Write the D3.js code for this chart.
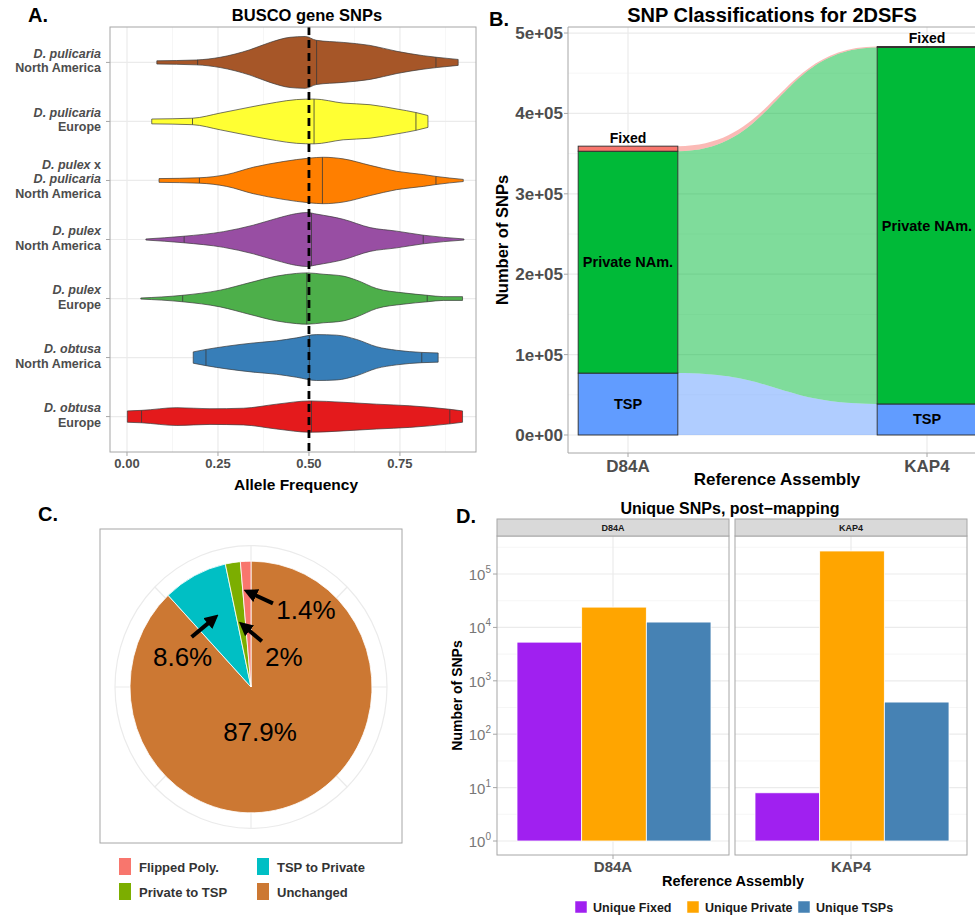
<!DOCTYPE html>
<html>
<head>
<meta charset="utf-8">
<script src="https://cdn.jsdelivr.net/npm/d3@7"></script>
<style>
  body { margin: 0; background: #fff; }
  svg { display: block; }
  text { font-family: "Liberation Sans", Arial, Helvetica, sans-serif; }
</style>
</head>
<body>
<svg id="fig" width="975" height="917"></svg>
<script>
// ---------------- Panel A: BUSCO gene SNP allele frequencies ----------------
const violinSpecies = ["D. pulicaria", "D. pulicaria", "D. pulex x D. pulicaria", "D. pulex", "D. pulex", "D. obtusa", "D. obtusa"];
const violinRegion  = ["North America", "Europe", "North America", "North America", "Europe", "North America", "Europe"];
const violinColors  = ["#A65628", "#FFFF33", "#FF7F00", "#984EA3", "#4DAF4A", "#377EB8", "#E41A1C"];
// allele-frequency grid of each violin and its relative density (half width)
const violinAF = [
  [0.082, 0.19, 0.256, 0.338, 0.393, 0.448, 0.49, 0.52, 0.594, 0.668, 0.742, 0.814, 0.851, 0.91],
  [0.068, 0.18, 0.256, 0.338, 0.411, 0.466, 0.514, 0.594, 0.668, 0.742, 0.794, 0.827],
  [0.088, 0.199, 0.274, 0.347, 0.429, 0.503, 0.539, 0.594, 0.668, 0.741, 0.814, 0.849, 0.924],
  [0.052, 0.155, 0.265, 0.347, 0.411, 0.466, 0.494, 0.521, 0.594, 0.668, 0.741, 0.814, 0.926],
  [0.038, 0.153, 0.256, 0.338, 0.411, 0.466, 0.495, 0.539, 0.594, 0.631, 0.686, 0.759, 0.825, 0.869, 0.922],
  [0.182, 0.217, 0.274, 0.347, 0.411, 0.466, 0.521, 0.576, 0.631, 0.686, 0.741, 0.81, 0.855],
  [0.001, 0.04, 0.137, 0.228, 0.32, 0.411, 0.503, 0.594, 0.686, 0.777, 0.887, 0.922]
];
const violinDensity = [
  [0.06, 0.09, 0.19, 0.47, 0.74, 0.93, 0.96, 0.82, 0.74, 0.63, 0.41, 0.25, 0.19, 0.11],
  [0.09, 0.12, 0.31, 0.53, 0.71, 0.81, 0.83, 0.68, 0.62, 0.46, 0.33, 0.22],
  [0.07, 0.10, 0.22, 0.49, 0.70, 0.83, 0.86, 0.80, 0.56, 0.34, 0.22, 0.15, 0.04],
  [0.02, 0.12, 0.29, 0.53, 0.78, 0.96, 1.00, 0.94, 0.75, 0.44, 0.31, 0.16, 0.02],
  [0.02, 0.12, 0.31, 0.59, 0.83, 0.93, 0.95, 0.90, 0.83, 0.68, 0.37, 0.21, 0.12, 0.07, 0.07],
  [0.21, 0.30, 0.42, 0.54, 0.62, 0.73, 0.85, 0.83, 0.67, 0.40, 0.27, 0.19, 0.17],
  [0.21, 0.23, 0.33, 0.29, 0.31, 0.46, 0.58, 0.53, 0.46, 0.40, 0.27, 0.21]
];
const violinQuantiles = [
  [0.194, 0.521, 0.849],
  [0.18, 0.514, 0.794],
  [0.199, 0.537, 0.849],
  [0.157, 0.507, 0.814],
  [0.153, 0.494, 0.825],
  [0.217, 0.501, 0.81],
  [0.04, 0.507, 0.887]
];
const afTicks = [0, 0.25, 0.5, 0.75];
const afMinor = [0.125, 0.375, 0.625, 0.875];
const afReference = 0.5;

// ---------------- Panel B: SNP classifications for 2DSFS ----------------
const assemblies = ["D84A", "KAP4"];
const snpClasses = ["TSP", "Private NAm.", "Fixed"];
const tspCounts = [77000, 38600];
const privateCounts = [276000, 443500];
const fixedCounts = [6300, 1200];
const classColors = ["#619CFF", "#00BA38", "#F8766D"];
const countTicks = [0, 100000, 200000, 300000, 400000, 500000];

// ---------------- Panel C: change of classification ----------------
const pieCategories = ["Unchanged", "TSP to Private", "Private to TSP", "Flipped Poly."];
const piePercent = [87.9, 8.6, 2, 1.4];
const pieColors = ["#CC7833", "#00BFC4", "#7CAE00", "#F8766D"];
const legendOrderC = ["Flipped Poly.", "Private to TSP", "TSP to Private", "Unchanged"];

// ---------------- Panel D: unique SNPs post-mapping ----------------
const facets = ["D84A", "KAP4"];
const uniqueTypes = ["Unique Fixed", "Unique Private", "Unique TSPs"];
const uniqueFixed = [5300, 8];
const uniquePrivate = [24000, 270000];
const uniqueTSPs = [12600, 400];
const uniqueColors = ["#A020F0", "#FFA500", "#4682B4"];
const logTicks = [1, 10, 100, 1000, 10000, 100000];

// ======================================================================
const svg = d3.select("#fig");
svg.append("rect").attr("width", 975).attr("height", 917).attr("fill", "#fff");

const GRID = "#ebebeb", GRID_MINOR = "#f4f4f4", BORDER = "#a6a6a6", AXIS_TXT = "#4d4d4d";

function panelLetter(x, y, t) {
  svg.append("text").attr("x", x).attr("y", y).attr("font-size", 20)
    .attr("font-weight", "bold").attr("fill", "#000").text(t);
}

// ---------------- Panel A ----------------
{
  const L = 110, R = 476, T = 27, B = 452;
  const g = svg.append("g");
  const x = d3.scaleLinear().domain([-0.0467, 0.959]).range([L, R]);
  const y = d3.scalePoint().domain(d3.range(violinSpecies.length)).range([T, B]).padding(0.6);
  const w = d3.scaleLinear().domain([0, 1]).range([0, 27]);

  afMinor.forEach(v => g.append("line").attr("x1", x(v)).attr("x2", x(v)).attr("y1", T).attr("y2", B)
    .attr("stroke", GRID_MINOR).attr("stroke-width", 0.8));
  afTicks.forEach(v => g.append("line").attr("x1", x(v)).attr("x2", x(v)).attr("y1", T).attr("y2", B)
    .attr("stroke", GRID).attr("stroke-width", 1.2));
  y.domain().forEach(i => g.append("line").attr("x1", L).attr("x2", R).attr("y1", y(i)).attr("y2", y(i))
    .attr("stroke", GRID).attr("stroke-width", 1.2));

  violinAF.forEach((afs, i) => {
    const pts = afs.map((a, j) => ({ a, d: violinDensity[i][j] }));
    const cy = y(i);
    const area = d3.area().x(p => x(p.a)).y0(p => cy - w(p.d)).y1(p => cy + w(p.d)).curve(d3.curveMonotoneX);
    g.append("path").attr("d", area(pts)).attr("fill", violinColors[i])
      .attr("stroke", "#3a3a3a").attr("stroke-width", 0.7);
    violinQuantiles[i].forEach(q => {
      let j = d3.bisector(p => p.a).right(pts, q);
      j = Math.max(1, Math.min(pts.length - 1, j));
      const p0 = pts[j - 1], p1 = pts[j];
      const dq = p0.d + (p1.d - p0.d) * (q - p0.a) / (p1.a - p0.a);
      g.append("line").attr("x1", x(q)).attr("x2", x(q)).attr("y1", cy - w(dq)).attr("y2", cy + w(dq))
        .attr("stroke", "#3a3a3a").attr("stroke-width", 0.8);
    });
  });

  g.append("line").attr("x1", x(afReference)).attr("x2", x(afReference)).attr("y1", T).attr("y2", B)
    .attr("stroke", "#000").attr("stroke-width", 2.8).attr("stroke-dasharray", "8,5");

  g.append("rect").attr("x", L).attr("y", T).attr("width", R - L).attr("height", B - T)
    .attr("fill", "none").attr("stroke", BORDER).attr("stroke-width", 1);

  // axes
  afTicks.forEach(v => {
    g.append("line").attr("x1", x(v)).attr("x2", x(v)).attr("y1", B).attr("y2", B + 4).attr("stroke", BORDER);
    g.append("text").attr("x", x(v)).attr("y", B + 16).attr("text-anchor", "middle")
      .attr("font-size", 13).attr("font-weight", "bold").attr("fill", AXIS_TXT).text(d3.format(".2f")(v));
  });
  y.domain().forEach(i => {
    g.append("line").attr("x1", L - 4).attr("x2", L).attr("y1", y(i)).attr("y2", y(i)).attr("stroke", BORDER);
    const parts = violinSpecies[i].split(" x ");
    const lines = parts.map((p, k) => ({ t: p, italic: true, suffix: k < parts.length - 1 ? " x" : "" }));
    lines.push({ t: violinRegion[i], italic: false, suffix: "" });
    const lh = 14.2, cy = y(i) - 1.5;
    lines.forEach((ln, k) => {
      const by = cy + (k - (lines.length - 1) / 2) * lh + 4.4;
      const t = g.append("text").attr("x", 101).attr("y", by).attr("text-anchor", "end")
        .attr("font-size", 12.5).attr("font-weight", "bold").attr("fill", AXIS_TXT);
      t.append("tspan").attr("font-style", ln.italic ? "italic" : "normal").text(ln.t);
      if (ln.suffix) t.append("tspan").attr("font-style", "normal").text(ln.suffix);
    });
  });

  svg.append("text").attr("x", 307).attr("y", 21).attr("text-anchor", "middle")
    .attr("font-size", 16.5).attr("font-weight", "bold").attr("fill", "#000").text("BUSCO gene SNPs");
  svg.append("text").attr("x", 296).attr("y", 490).attr("text-anchor", "middle")
    .attr("font-size", 15.5).attr("font-weight", "bold").attr("fill", "#000").text("Allele Frequency");
  panelLetter(28, 22, "A.");
}

// ---------------- Panel B ----------------
{
  const L = 568, R = 1000, T = 27, B = 453;
  const g = svg.append("g");
  const x = d3.scalePoint().domain(assemblies).range([628, 927]);
  const halfBar = (x("KAP4") - x("D84A")) / 6;
  const y = d3.scaleLinear().domain([-22400, 507500]).range([B, T]);

  const minorTicks = d3.range(50000, 500000, 100000);
  minorTicks.forEach(v => g.append("line").attr("x1", L).attr("x2", R).attr("y1", y(v)).attr("y2", y(v))
    .attr("stroke", GRID_MINOR).attr("stroke-width", 0.8));
  countTicks.forEach(v => g.append("line").attr("x1", L).attr("x2", R).attr("y1", y(v)).attr("y2", y(v))
    .attr("stroke", GRID).attr("stroke-width", 1.2));
  assemblies.forEach(a => g.append("line").attr("x1", x(a)).attr("x2", x(a)).attr("y1", T).attr("y2", B)
    .attr("stroke", GRID).attr("stroke-width", 1.2));

  // stacked strata per assembly: TSP, Private, Fixed (bottom to top)
  const counts = [tspCounts, privateCounts, fixedCounts];
  const stacks = assemblies.map((a, ai) => {
    let base = 0;
    return snpClasses.map((c, ci) => {
      const s = { a, c, ci, y0: base, y1: base + counts[ci][ai] };
      base = s.y1;
      return s;
    });
  });

  // alluvial flows between the two assemblies
  const flowArea = d3.area().x(p => p.x).y0(p => y(p.lo)).y1(p => y(p.hi)).curve(d3.curveBumpX);
  snpClasses.forEach((c, ci) => {
    const s0 = stacks[0][ci], s1 = stacks[1][ci];
    const pts = [
      { x: x(assemblies[0]) + halfBar, lo: s0.y0, hi: s0.y1 },
      { x: x(assemblies[1]) - halfBar, lo: s1.y0, hi: s1.y1 }
    ];
    g.append("path").attr("d", flowArea(pts)).attr("fill", classColors[ci]).attr("fill-opacity", 0.5);
  });

  stacks.forEach(st => st.forEach(s => {
    g.append("rect").attr("x", x(s.a) - halfBar).attr("width", halfBar * 2)
      .attr("y", y(s.y1)).attr("height", y(s.y0) - y(s.y1))
      .attr("fill", classColors[s.ci]).attr("stroke", "#2b2b2b").attr("stroke-width", 0.9);
  }));

  // stratum labels
  stacks.forEach(st => st.forEach(s => {
    const cx = x(s.a);
    let ty, size;
    if (s.c === "Fixed") { ty = y(s.y1) - 3; size = 14; }
    else { ty = y((s.y0 + s.y1) / 2) + 5; size = 14.5; }
    g.append("text").attr("x", cx).attr("y", ty).attr("text-anchor", "middle")
      .attr("font-size", size).attr("font-weight", "bold").attr("fill", "#000").text(s.c);
  }));

  g.append("line").attr("x1", L).attr("x2", L).attr("y1", T).attr("y2", B).attr("stroke", BORDER);
  g.append("line").attr("x1", L).attr("x2", R).attr("y1", T).attr("y2", T).attr("stroke", BORDER);
  g.append("line").attr("x1", L).attr("x2", R).attr("y1", B).attr("y2", B).attr("stroke", BORDER);

  countTicks.forEach(v => {
    g.append("line").attr("x1", L - 4).attr("x2", L).attr("y1", y(v)).attr("y2", y(v)).attr("stroke", BORDER);
    const lbl = v === 0 ? "0e+00" : d3.format(".0e")(v).replace("e+", "e+0");
    g.append("text").attr("x", L - 5).attr("y", y(v) + 6).attr("text-anchor", "end")
      .attr("font-size", 17).attr("font-weight", "bold").attr("fill", AXIS_TXT).text(lbl);
  });
  assemblies.forEach(a => {
    g.append("line").attr("x1", x(a)).attr("x2", x(a)).attr("y1", B).attr("y2", B + 4).attr("stroke", BORDER);
    g.append("text").attr("x", x(a)).attr("y", B + 19).attr("text-anchor", "middle")
      .attr("font-size", 17).attr("font-weight", "bold").attr("fill", AXIS_TXT).text(a);
  });
  svg.append("text").attr("transform", "translate(508,240) rotate(-90)").attr("text-anchor", "middle")
    .attr("font-size", 16.5).attr("font-weight", "bold").attr("fill", "#000").text("Number of SNPs");
  svg.append("text").attr("x", 777).attr("y", 485).attr("text-anchor", "middle")
    .attr("font-size", 17).attr("font-weight", "bold").attr("fill", "#000").text("Reference Assembly");
  svg.append("text").attr("x", 772).attr("y", 22).attr("text-anchor", "middle")
    .attr("font-size", 20).attr("font-weight", "bold").attr("fill", "#000").text("SNP Classifications for 2DSFS");
  panelLetter(489, 26, "B.");
}

// ---------------- Panel C ----------------
{
  const g = svg.append("g");
  g.append("rect").attr("x", 100).attr("y", 529).attr("width", 302).attr("height", 314)
    .attr("fill", "#fff").attr("stroke", BORDER).attr("stroke-width", 1);
  const cx = 251, cy = 687, sy = 1.04, r = 121;
  const pg = g.append("g").attr("transform", `translate(${cx},${cy}) scale(1,${sy})`);
  // polar grid
  pg.append("circle").attr("r", 136).attr("fill", "none").attr("stroke", GRID).attr("stroke-width", 1.2);
  d3.range(8).forEach(k => {
    const a = k * Math.PI / 4;
    pg.append("line").attr("x1", Math.sin(a) * 20).attr("y1", -Math.cos(a) * 20)
      .attr("x2", Math.sin(a) * 136).attr("y2", -Math.cos(a) * 136).attr("stroke", GRID).attr("stroke-width", 1.2);
  });
  const data = pieCategories.map((c, i) => ({ c, v: piePercent[i], col: pieColors[i] }));
  const arcs = d3.pie().sort(null).value(d => d.v)(data);
  const arc = d3.arc().innerRadius(0).outerRadius(r);
  pg.selectAll("path.slice").data(arcs).join("path").attr("class", "slice")
    .attr("d", arc).attr("fill", d => d.data.col).attr("stroke", "#fff").attr("stroke-width", 0.8);

  // arrows and percentage labels
  const defs = svg.append("defs");
  defs.append("marker").attr("id", "ahead").attr("viewBox", "0 0 10 10").attr("refX", 3).attr("refY", 5)
    .attr("markerWidth", 14).attr("markerHeight", 14).attr("markerUnits", "userSpaceOnUse")
    .attr("orient", "auto").append("path").attr("d", "M0,0 L10,5 L0,10 z").attr("fill", "#000");

  const mid = d => (d.startAngle + d.endAngle) / 2;
  const polar = (a, rr) => [cx + Math.sin(a) * rr, cy - Math.cos(a) * rr * sy];
  // annotation layout: arrow tip radius, tail offset from tip, label offset from tail
  const annot = {
    "Unchanged": null,
    "TSP to Private": { tipR: 76, tail: [-24, 20], lab: [-9, 29] },
    "Private to TSP": { tipR: 61, tail: [20, 17], lab: [22, 25] },
    "Flipped Poly.": { tipR: 92, tail: [26, 12], lab: [33, 16] }
  };
  arcs.forEach(d => {
    const lbl = d.data.v + "%";
    const an = annot[d.data.c];
    if (!an) {
      g.append("text").attr("x", cx + 9).attr("y", cy + 54).attr("text-anchor", "middle")
        .attr("font-size", 26).attr("fill", "#000").text(lbl);
      return;
    }
    const [tx, ty] = polar(mid(d), an.tipR);
    const sx = tx + an.tail[0], syy = ty + an.tail[1];
    const len = Math.hypot(tx - sx, ty - syy);
    const ex = sx + (tx - sx) * (len - 6) / len, ey = syy + (ty - syy) * (len - 6) / len;
    g.append("line").attr("x1", sx).attr("y1", syy).attr("x2", ex).attr("y2", ey)
      .attr("stroke", "#000").attr("stroke-width", 4).attr("marker-end", "url(#ahead)");
    g.append("text").attr("x", sx + an.lab[0]).attr("y", syy + an.lab[1]).attr("text-anchor", "middle")
      .attr("font-size", 26).attr("fill", "#000").text(lbl);
  });

  // legend (two columns)
  legendOrderC.forEach((c, i) => {
    const col = Math.floor(i / 2), row = i % 2;
    const lx = 119 + col * 138, ly = 858 + row * 25;
    g.append("rect").attr("x", lx).attr("y", ly).attr("width", 12).attr("height", 17)
      .attr("fill", pieColors[pieCategories.indexOf(c)]);
    g.append("text").attr("x", lx + 20).attr("y", ly + 13.5).attr("font-size", 13)
      .attr("font-weight", "bold").attr("fill", "#333").text(c);
  });
  panelLetter(38, 521, "C.");
}

// ---------------- Panel D ----------------
{
  const T = 536, B = 855;
  const g = svg.append("g");
  const fx = d3.scaleBand().domain(facets).range([497, 967]).paddingInner(0.0252);
  const y = d3.scaleLog().domain([Math.pow(10, -0.262), Math.pow(10, 5.712)]).range([B, T]);
  const values = [uniqueFixed, uniquePrivate, uniqueTSPs];
  const minorLog = d3.range(0, 6).map(k => Math.pow(10, k + 0.5));

  facets.forEach((f, fi) => {
    const x0 = fx(f), bw = fx.bandwidth();
    const xb = d3.scaleBand().domain(uniqueTypes).range([x0 + 20, x0 + 214]);
    const cxF = x0 + bw / 2;
    g.append("rect").attr("x", x0).attr("y", T).attr("width", bw).attr("height", B - T).attr("fill", "#fff");
    minorLog.forEach(v => g.append("line").attr("x1", x0).attr("x2", x0 + bw).attr("y1", y(v)).attr("y2", y(v))
      .attr("stroke", GRID_MINOR).attr("stroke-width", 0.8));
    logTicks.forEach(v => g.append("line").attr("x1", x0).attr("x2", x0 + bw).attr("y1", y(v)).attr("y2", y(v))
      .attr("stroke", GRID).attr("stroke-width", 1.2));
    g.append("line").attr("x1", cxF).attr("x2", cxF).attr("y1", T).attr("y2", B)
      .attr("stroke", GRID).attr("stroke-width", 1.2);

    uniqueTypes.forEach((t, ti) => {
      const v = values[ti][fi];
      g.append("rect").attr("x", xb(t)).attr("width", xb.bandwidth())
        .attr("y", y(v)).attr("height", y(1) - y(v))
        .attr("fill", uniqueColors[ti]).attr("stroke", "#fff").attr("stroke-width", 0.8);
    });

    g.append("rect").attr("x", x0).attr("y", T).attr("width", bw).attr("height", B - T)
      .attr("fill", "none").attr("stroke", BORDER);
    // facet strip
    g.append("rect").attr("x", x0).attr("y", 519).attr("width", bw).attr("height", T - 519)
      .attr("fill", "#d9d9d9").attr("stroke", BORDER);
    g.append("text").attr("x", cxF).attr("y", 531).attr("text-anchor", "middle")
      .attr("font-size", 9).attr("font-weight", "bold").attr("fill", "#1a1a1a").text(f);
    // x axis
    g.append("line").attr("x1", cxF).attr("x2", cxF).attr("y1", B).attr("y2", B + 4).attr("stroke", BORDER);
    g.append("text").attr("x", cxF).attr("y", B + 17).attr("text-anchor", "middle")
      .attr("font-size", 15).attr("font-weight", "bold").attr("fill", AXIS_TXT).text(f);
  });

  const x0 = fx(facets[0]);
  logTicks.forEach(v => {
    g.append("line").attr("x1", x0 - 4).attr("x2", x0).attr("y1", y(v)).attr("y2", y(v)).attr("stroke", BORDER);
    const t = g.append("text").attr("x", x0 - 6).attr("y", y(v) + 6).attr("text-anchor", "end")
      .attr("font-size", 15).attr("fill", "#777");
    t.append("tspan").text("10");
    t.append("tspan").attr("dy", -7).attr("font-size", 10).text(Math.round(Math.log10(v)));
  });

  svg.append("text").attr("x", 730).attr("y", 514).attr("text-anchor", "middle")
    .attr("font-size", 16).attr("font-weight", "bold").attr("fill", "#000").text("Unique SNPs, post\u2212mapping");
  svg.append("text").attr("transform", `translate(462,${(T + B) / 2}) rotate(-90)`).attr("text-anchor", "middle")
    .attr("font-size", 14).attr("font-weight", "bold").attr("fill", "#000").text("Number of SNPs");
  svg.append("text").attr("x", 733).attr("y", 886).attr("text-anchor", "middle")
    .attr("font-size", 14.5).attr("font-weight", "bold").attr("fill", "#000").text("Reference Assembly");

  // legend
  const legX = [575, 687, 798];
  uniqueTypes.forEach((t, i) => {
    g.append("rect").attr("x", legX[i]).attr("y", 901).attr("width", 12).attr("height", 12)
      .attr("fill", uniqueColors[i]).attr("stroke", "#fff").attr("stroke-width", 0.5);
    g.append("text").attr("x", legX[i] + 18).attr("y", 912).attr("font-size", 12.5)
      .attr("font-weight", "bold").attr("fill", "#1a1a1a").text(t);
  });
  panelLetter(456, 523, "D.");
}
</script>
</body>
</html>
